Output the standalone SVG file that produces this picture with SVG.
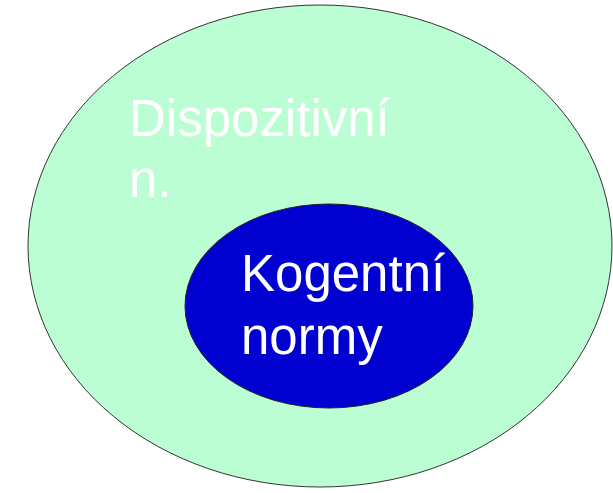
<svg xmlns="http://www.w3.org/2000/svg" width="613" height="493" viewBox="0 0 613 493">
<style>
.lbl{font-family:"Liberation Sans",Arial,sans-serif;font-size:51px;fill:#ffffff}
</style>
<rect width="613" height="493" fill="#ffffff"/>
<g id="dispozitivni">
<ellipse cx="320" cy="246" rx="292" ry="241" fill="#bbfed3" stroke="#333333" stroke-width="1"/>
<text class="lbl" x="129" y="136">Dispozitivní</text>
<text class="lbl" x="129" y="197">n.</text>
</g>
<g id="kogentni">
<ellipse cx="329" cy="306" rx="144" ry="102" fill="#0000d0" stroke="#222222" stroke-width="1"/>
<text class="lbl" x="241" y="291">Kogentní</text>
<text class="lbl" x="241" y="354">normy</text>
</g>
<g id="connectors"/>
</svg>
